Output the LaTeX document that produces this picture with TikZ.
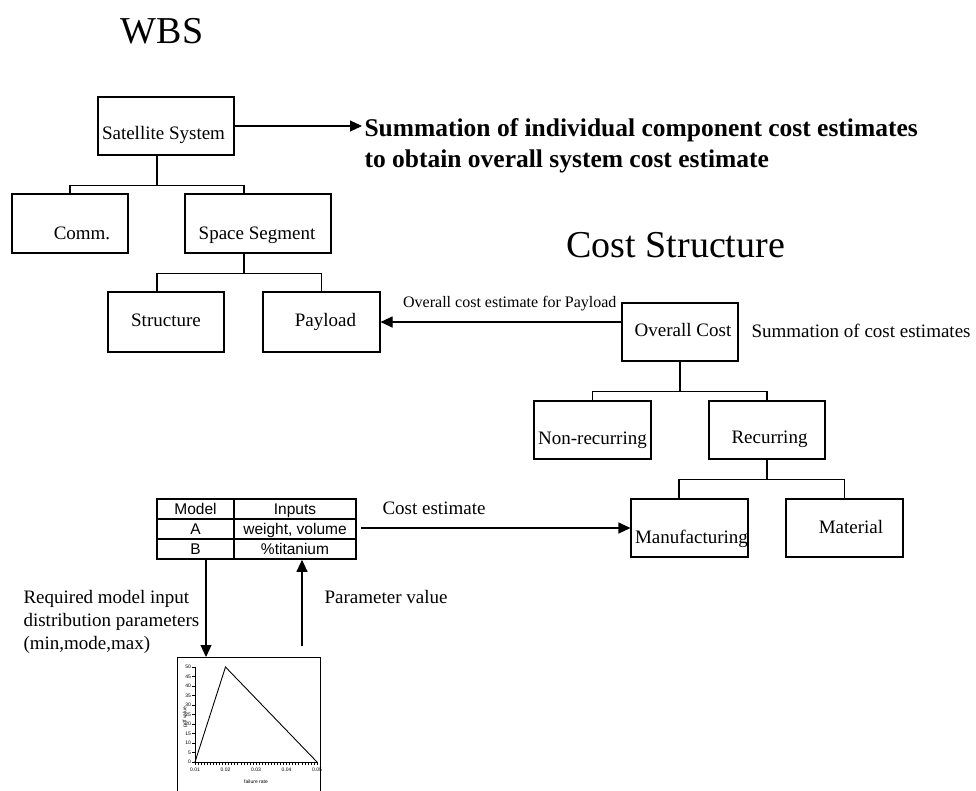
\documentclass[tikz,border=0pt]{standalone}
\usepackage{fontspec}
\setmainfont{Liberation Serif}
\newfontfamily\tablefont{Liberation Sans}
\usetikzlibrary{arrows.meta,calc}

\begin{document}
\begin{tikzpicture}[x=1pt,y=-1pt,
  line width=1.1pt,
  box/.style={draw, line width=1.1pt, inner sep=0pt, minimum width=116pt, minimum height=58pt},
  lbl/.style={inner sep=0pt, font=\fontsize{19}{22}\selectfont},
  boxtext/.style={lbl, anchor=base},
  small/.style={inner sep=0pt, font=\fontsize{16}{19}\selectfont},
  title/.style={inner sep=0pt, font=\fontsize{38}{44}\selectfont},
  note/.style={inner sep=0pt, font=\bfseries\fontsize{25.5}{31}\selectfont},
  cell/.style={inner sep=0pt, anchor=base, font=\tablefont\fontsize{15.5}{18}\selectfont},
  tiny/.style={inner sep=0pt, font=\tablefont\fontsize{5}{6}\selectfont},
  arr/.style={-{Triangle[length=12pt,width=11pt]}},
  plotline/.style={line width=0.9pt}
]
\useasboundingbox (0,0) rectangle (976,790);

% ---- titles ----
\node[title, anchor=base] (wbs) at (162,43) {WBS};
\node[title, anchor=base west] (cst) at (566,257) {Cost Structure};

% ---- work breakdown structure ----
\node[box, minimum width=136pt] (sat) at (166,126) {};
\node[boxtext] at (163.5,139.5) {Satellite System};
\node[box, minimum height=59pt] (comm) at (70,223.5) {};
\node[boxtext] at (82,239.5) {Comm.};
\node[box, minimum width=146pt, minimum height=59pt] (seg) at (258,223.5) {};
\node[boxtext] at (257,239.5) {Space Segment};
\node[box, minimum height=60pt] (str) at (166,322) {};
\node[boxtext] at (166,326.5) {Structure};
\node[box, minimum width=117pt, minimum height=60pt] (pay) at (321.5,322) {};
\node[boxtext] at (325.5,326.5) {Payload};

\coordinate (j1) at ($(sat.south)+(-9,30)$);
\draw ($(sat.south)+(-9,0)$) -- (j1);
\draw (comm.north) |- (j1) -| ($(seg.north)+(-14,0)$);
\coordinate (j2) at ($(seg.south)+(-14,20)$);
\draw ($(seg.south)+(-14,0)$) -- (j2);
\draw ($(str.north)+(-9,0)$) |- (j2) -| (pay.north);

% ---- summation note ----
\coordinate (sumtip) at (362,126);
\draw[arr] (sat.east) -- (sumtip);
\node[note, anchor=base west] at (364,136) {Summation of individual component cost estimates};
\node[note, anchor=base west] at (364,167) {to obtain overall system cost estimate};

% ---- cost structure ----
\node[box] (ovr) at (680,332) {};
\node[boxtext] at (683,336.5) {Overall Cost};
\node[box, minimum width=117pt] (nrc) at (592.5,430) {};
\node[boxtext] at (592.5,444.5) {Non-recurring};
\node[box] (rec) at (767,430) {};
\node[boxtext] at (769.5,443.5) {Recurring};
\node[box, minimum width=117pt] (mfg) at (689.5,528) {};
\node[boxtext] at (691.5,543.5) {Manufacturing};
\node[box, minimum width=117pt] (mat) at (844.5,528) {};
\node[boxtext] at (851,533.5) {Material};

\coordinate (j3) at ($(ovr.south)+(0,30)$);
\draw (ovr.south) -- (j3);
\draw (nrc.north) |- (j3) -| (rec.north);
\coordinate (j4) at ($(rec.south)+(0,20)$);
\draw (rec.south) -- (j4);
\draw ($(mfg.north)+(-10.5,0)$) |- (j4) -| (mat.north);

\draw[arr] (ovr.west |- pay.east) -- (pay.east);
\node[small, anchor=base east] at (617,307) {Overall cost estimate for Payload};
\node[lbl, anchor=base west] at (751,337) {Summation of cost estimates};

% ---- model table ----
\node[draw, line width=1.6pt, inner sep=0pt, minimum width=199pt, minimum height=60pt] (tbl) at (256.5,529) {};
\draw[line width=1.6pt] (157,519) -- (356,519) (157,539) -- (356,539) (234,499) -- (234,559);
\node[cell] at (195.5,514.5) {Model};
\node[cell] at (295,514.5) {Inputs};
\node[cell] at (195.5,534.5) {A};
\node[cell] at (295,534.5) {weight, volume};
\node[cell] at (195.5,554.5) {B};
\node[cell] at (295,554.5) {\%titanium};

\draw[arr] ($(tbl.east |- mfg.west)+(4,0)$) -- (mfg.west);
\node[lbl, anchor=base west] at (382,514) {Cost estimate};

% ---- distribution chart ----
\node[inner sep=0pt, minimum width=142pt, minimum height=134pt, anchor=north west] (chart) at (177,657) {};
\draw[line width=0.9pt] (chart.south west) -- (chart.north west) -- (chart.north east) -- (chart.south east);

\coordinate (dn) at (206,0);
\coordinate (up) at (302,0);
\draw[arr] (tbl.south -| dn) -- (chart.north -| dn);
\draw[arr] ($(chart.north -| up)+(0,-11)$) -- (tbl.south -| up);

\node[lbl, anchor=base west] at (324,603) {Parameter value};
\node[lbl, anchor=base west] at (23,603) {Required model input};
\node[lbl, anchor=base west] at (23,626) {distribution parameters};
\node[lbl, anchor=base west] at (23,649) {(min,mode,max)};

% axes, ticks and labels
\draw[line width=0.7pt] (195,667) -- (195,762) -- (317,762);
\foreach \k in {0,...,40} \draw[line width=0.5pt] (195+\k*3.05,762) -- (195+\k*3.05,765);
\foreach \i/\t in {0/0.01,1/0.02,2/0.03,3/0.04,4/0.05}
  \node[tiny] at (195+\i*30.5,770) {\t};
\foreach \v in {0,5,...,50} {
  \draw[line width=0.5pt] (192,762-\v*1.9) -- (195,762-\v*1.9);
  \node[tiny, anchor=east] at (191.5,762-\v*1.9) {\v};
}
\node[tiny, rotate=90] at (185,717) {pdf value};
\node[tiny] at (256,782) {failure rate};
\draw[plotline] (195,762) -- (225.5,667) -- (317,762);

\end{tikzpicture}
\end{document}
